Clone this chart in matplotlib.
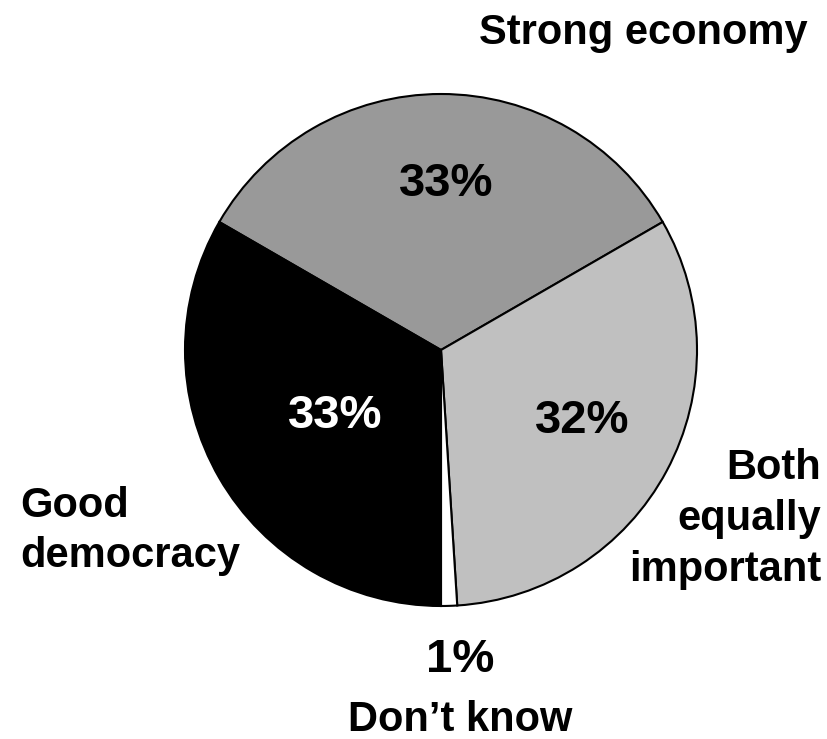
import matplotlib.pyplot as plt

# survey shares, clockwise from the top
labels = ["Strong economy", "Both\nequally\nimportant", "Don\u2019t know", "Good\ndemocracy"]
values = [33, 32, 1, 33]
colors = ["#999999", "#c0c0c0", "#ffffff", "#000000"]
pct_colors = ["black", "black", "black", "white"]

plt.rcParams["font.family"] = ["Liberation Sans", "DejaVu Sans"]
plt.rcParams["font.weight"] = "bold"

W, H = 828, 739
fig = plt.figure(figsize=(W / 100, H / 100), dpi=100)
ax = fig.add_axes([0, 0, 1, 1])

cx, cy, r = 441, H - 350, 256
ax.pie(values, colors=colors, startangle=150, counterclock=False,
       center=(cx, cy), radius=r,
       wedgeprops=dict(edgecolor="black", linewidth=1.5))
ax.set_xlim(0, W)
ax.set_ylim(0, H)
ax.set_aspect("auto")
ax.axis("off")


def put(x, y, s, size=30, **kw):
    # positions given from the top-left corner
    ax.text(x, H - y, s, fontsize=size, va="center", **kw)


put(446, 184, f"{values[0]}%", size=34, ha="center", color=pct_colors[0])
put(582, 421, f"{values[1]}%", size=34, ha="center", color=pct_colors[1])
put(460, 660, f"{values[2]}%", size=34, ha="center", color=pct_colors[2])
put(335, 416, f"{values[3]}%", size=34, ha="center", color=pct_colors[3])

put(808, 33, labels[0], ha="right")
put(821, 519, labels[1], ha="right", linespacing=1.35)
put(460, 720, labels[2], ha="center")
put(20, 531, labels[3], ha="left", linespacing=1.35)

fig.savefig("out.png", dpi=100)
